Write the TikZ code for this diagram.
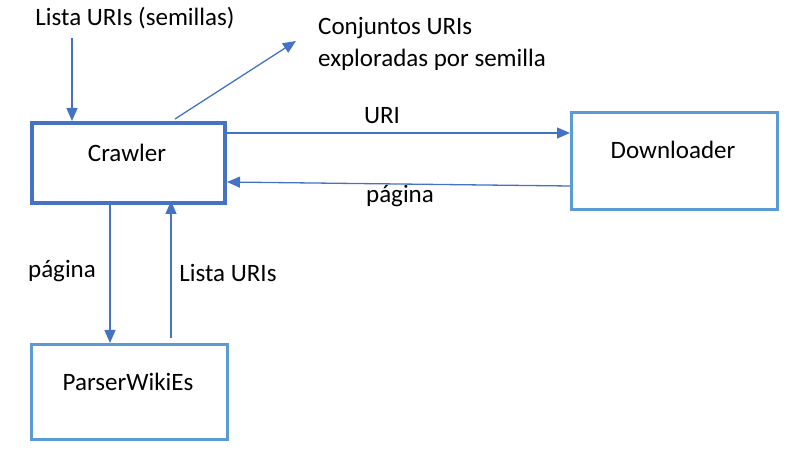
\documentclass[tikz,border=0pt]{standalone}
\usepackage{fontspec}
\setmainfont{Carlito}
\usetikzlibrary{arrows.meta}
\definecolor{darkblue}{HTML}{4472C4}
\definecolor{lightblue}{HTML}{5B9BD5}
\tikzset{
  box/.style={draw=lightblue, line width=3pt, inner sep=0pt, anchor=north west},
  mainbox/.style={box, draw=darkblue, line width=4pt},
  conn/.style={draw=darkblue, line width=1.3pt, -{Triangle[length=13pt,width=11pt]}},
  txt/.style={font=\fontsize{25}{30}\selectfont, inner sep=0pt, text=black},
}
\begin{document}
\begin{tikzpicture}[x=1pt,y=-1pt]
\useasboundingbox (0,0) rectangle (807,465);
% boxes
\node[mainbox, minimum width=193pt, minimum height=80pt] (crawler) at (30,121) {};
\node[box, minimum width=206pt, minimum height=97pt] (down) at (570,111) {};
\node[box, minimum width=196pt, minimum height=95pt] (parser) at (30,343) {};
% box texts
\node[txt] (tcrawler) at (127,153) {Crawler};
\node[txt] (tdown) at (673,150) {Downloader};
\node[txt] (tparser) at (128,382) {ParserWikiEs};
% free labels
\node[txt] (seeds) at (135,18) {Lista URIs (semillas)};
\node[txt, anchor=west] (conj1) at (318,28) {Conjuntos URIs};
\node[txt, anchor=west] (conj2) at (318,60) {exploradas por semilla};
\node[txt] (luri) at (382,116) {URI};
\node[txt] (lpag1) at (400,196) {página};
\node[txt] (lpag2) at (62,271) {página};
\node[txt] (llista) at (228,273) {Lista URIs};
% connector ends
\coordinate (seedstart) at (72,38);
\coordinate (conjend) at (296,41);
% connectors
\draw[conn] (seedstart) -- (seedstart |- crawler.north);
\draw[conn] (175,119) -- (conjend);
\draw[conn] (crawler.east |- 0,133) -- (down.west |- 0,133);
\draw[conn] (down.west |- 0,186) -- (crawler.east |- 0,182);
\draw[conn] (110,201) -- (110 ,343);
\draw[conn] (171,338) -- (171,201);
\end{tikzpicture}
\end{document}
